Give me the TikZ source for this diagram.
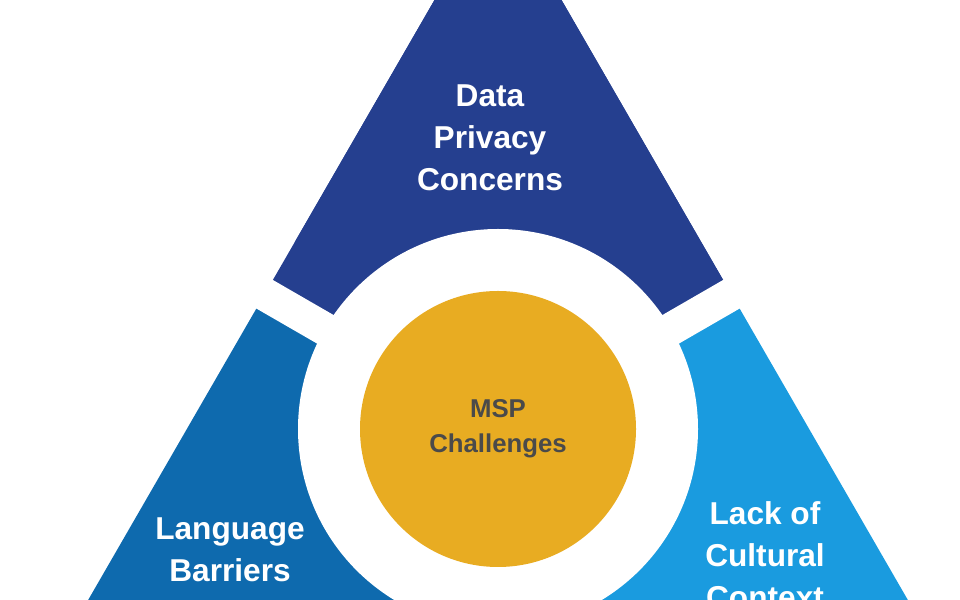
\documentclass[tikz,border=0pt]{standalone}
\usepackage{fontspec}
\setmainfont{Liberation Sans}
\definecolor{topb}{HTML}{253F8F}
\definecolor{leftb}{HTML}{0E6AAE}
\definecolor{rightb}{HTML}{1A9BDF}
\definecolor{gold}{HTML}{E8AC22}
\definecolor{msp}{HTML}{4A4A4A}
\begin{document}
\begin{tikzpicture}[x=0.03cm,y=0.03cm,
  lab/.style={text=white,font=\fontsize{27}{36}\selectfont\bfseries,align=center},
  cen/.style={text=msp,font=\fontsize{22}{30}\selectfont\bfseries,align=center}]
\useasboundingbox (0,0) rectangle (960,600);
\clip (0,0) rectangle (960,600);
\coordinate (c) at (498,171);
\coordinate (apex) at (498,710);
\coordinate (bl) at (31,-99);
\coordinate (br) at (965,-99);
\begin{scope}
\clip (apex) -- (bl) -- (br) -- cycle;
\fill[topb] (c) -- ++(30:800) -- ++(0,800) -- ++(-2000,0) -- (c) ++(150:800) -- cycle;
\fill[topb] (c) -- ++(30:800) arc[start angle=30,end angle=150,radius=800] -- cycle;
\fill[leftb] (c) -- ++(150:800) arc[start angle=150,end angle=270,radius=800] -- cycle;
\fill[rightb] (c) -- ++(270:800) arc[start angle=270,end angle=390,radius=800] -- cycle;
\end{scope}
\draw[white,line width=33*0.03cm] (c) -- ++(30:800);
\draw[white,line width=33*0.03cm] (c) -- ++(150:800);
\draw[white,line width=33*0.03cm] (c) -- ++(270:800);
\fill[white] (c) circle[radius=200];
\node[circle,fill=gold,minimum size=276*0.03cm,inner sep=0pt] (g) at (c) {};
\node[cen] (m) at (c) {MSP\\Challenges};
\node[lab] (t) at (490,462) {Data\\Privacy\\Concerns};
\node[lab] (l) at (230,50) {Language\\Barriers};
\node[lab] (r) at (765,45) {Lack of\\Cultural\\Context};
\end{tikzpicture}
\end{document}
